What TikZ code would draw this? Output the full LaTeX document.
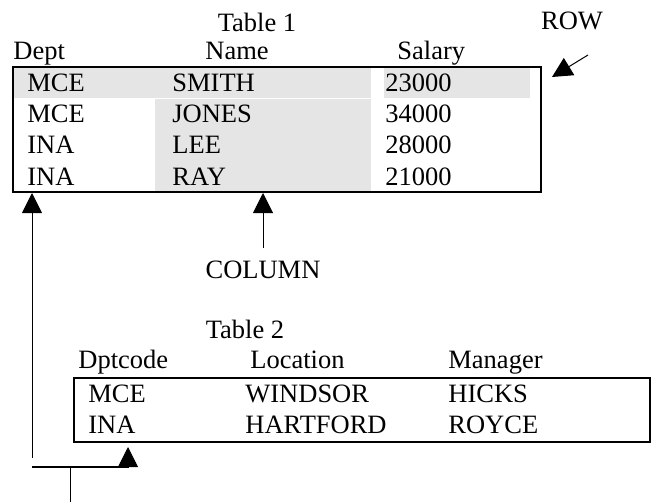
\documentclass[tikz,border=0pt]{standalone}
\usepackage{fontspec}
\setmainfont{Liberation Serif}
\usetikzlibrary{arrows.meta}
\tikzset{
  txt/.style={anchor=base west, inner sep=0pt},
  ctxt/.style={anchor=base, inner sep=0pt},
  tblbox/.style={draw, line width=1pt, anchor=north west, inner sep=0pt},
  cellshade/.style={fill=black!10},
  uparrow/.style={-{Triangle[length=10pt,width=10pt]}, line width=0.5pt},
}
\begin{document}
\begin{tikzpicture}[x=0.5pt,y=-0.5pt,font=\fontsize{13.25}{16}\selectfont]
\useasboundingbox (0,0) rectangle (651,502);
% grey cells of table 1
\fill[cellshade] (12,66) rectangle (371,98);
\fill[cellshade] (384,66) rectangle (530,98);
\fill[cellshade] (155,99) rectangle (371,191);
% the two tables
\node[tblbox, minimum width=264pt, minimum height=62.5pt] (tab1) at (12,66) {};
\node[tblbox, minimum width=288pt, minimum height=32pt] (tab2) at (73,377) {};

% table 1 texts
\node[ctxt] (title1) at (257,32) {Table 1};
\node[ctxt] (rowlbl) at (572,30) {ROW};
\node[txt] (hdept) at (13,60) {Dept};
\node[ctxt] (hname) at (237,60) {Name};
\node[txt] (hsal) at (397,60) {Salary};
\node[txt] (d1) at (27,92) {MCE};  \node[txt] (n1) at (172,92) {SMITH}; \node[txt] (s1) at (385,92) {23000};
\node[txt] (d2) at (27,123) {MCE}; \node[txt] (n2) at (172,123) {JONES}; \node[txt] (s2) at (385,123) {34000};
\node[txt] (d3) at (27,154) {INA}; \node[txt] (n3) at (172,154) {LEE};   \node[txt] (s3) at (385,154) {28000};
\node[txt] (d4) at (27,185) {INA}; \node[txt] (n4) at (172,185) {RAY};   \node[txt] (s4) at (385,185) {21000};

% table 2 texts
\node[ctxt] (collbl) at (263,278) {COLUMN};
\node[ctxt] (title2) at (245,338) {Table 2};
\node[txt] (hcode) at (78,368) {Dptcode};
\node[txt] (hloc) at (250,368) {Location};
\node[txt] (hman) at (448,368) {Manager};
\node[txt] (c1) at (88,402) {MCE}; \node[txt] (l1) at (245,402) {WINDSOR};  \node[txt] (m1) at (448,402) {HICKS};
\node[txt] (c2) at (88,433) {INA}; \node[txt] (l2) at (245,433) {HARTFORD}; \node[txt] (m2) at (448,433) {ROYCE};

% arrows
\coordinate (rowtail) at (588,55);
\coordinate (rowtip) at (552,77);
\draw[uparrow] (rowtail) -- (rowtip);
\coordinate (coltail) at (263,248);
\draw[uparrow] (coltail) -- (coltail |- tab1.south);
\coordinate (deptfoot) at (32,458);
\draw[uparrow] (deptfoot) -- (deptfoot |- tab1.south);
\coordinate (corner) at (32,467);
\coordinate (joint) at (128,467);
\coordinate (codetip) at (128,447);
\draw[line width=1pt] (corner) -- (joint);
\draw[uparrow] (joint) -- (codetip);
\coordinate (stemtop) at (70,467);
\coordinate (stembot) at (70,502);
\draw[line width=0.5pt] (stemtop) -- (stembot);
\end{tikzpicture}
\end{document}
